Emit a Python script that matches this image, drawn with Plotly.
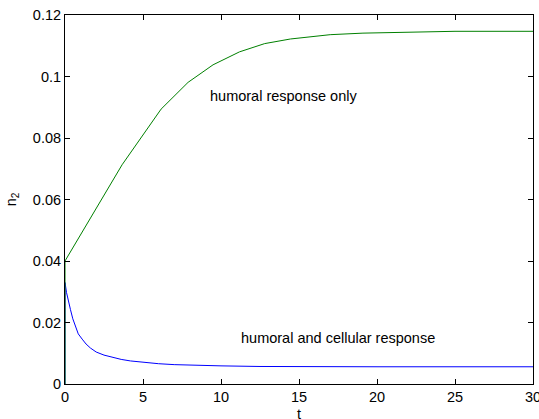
import plotly.graph_objects as go

# Humoral response only (green)
t_humoral = [0, 0, 3.66, 6.16, 7.89, 9.49, 11.18, 12.8, 14.45, 17.0, 19.1, 22.3, 25.0, 30.0]
n2_humoral = [0, 0.040, 0.0713, 0.0894, 0.0981, 0.1038, 0.1080, 0.1107, 0.1122, 0.1136, 0.1141, 0.1145, 0.1147, 0.1147]

# Humoral and cellular response (blue)
t_both = [0, 0, 0.1, 0.2, 0.35, 0.5, 0.67, 0.85, 1.1, 1.35, 1.63, 2.0, 2.5, 3.0, 3.6, 4.2,
          5.0, 6.0, 7.0, 8.5, 10.0, 12.5, 15.0, 20.0, 30.0]
n2_both = [0, 0.033, 0.0297, 0.0272, 0.0242, 0.0212, 0.0185, 0.0163, 0.0146, 0.0130, 0.0117,
           0.0104, 0.0094, 0.0087, 0.0080, 0.0075, 0.0070, 0.0066, 0.0063, 0.0060, 0.0059,
           0.0057, 0.0056, 0.0056, 0.0056]

x_ticks = [0, 5, 10, 15, 20, 25, 30]
y_ticks = [0, 0.02, 0.04, 0.06, 0.08, 0.1, 0.12]
y_tick_labels = ["0", "0.02", "0.04", "0.06", "0.08", "0.1", "0.12"]

FONT = "Liberation Sans, Arial, Helvetica, sans-serif"
FS = 14.5

fig = go.Figure()
fig.add_trace(go.Scatter(x=t_both, y=n2_both, mode="lines",
                         line=dict(color="#0000ff", width=1), showlegend=False))
fig.add_trace(go.Scatter(x=t_humoral, y=n2_humoral, mode="lines",
                         line=dict(color="#008000", width=1), showlegend=False))

fig.add_annotation(x=9.19, y=0.0938, text="humoral response only", showarrow=False,
                   xanchor="left", yanchor="middle", font=dict(size=FS, color="black", family=FONT))
fig.add_annotation(x=11.18, y=0.0151, text="humoral and cellular response", showarrow=False,
                   xanchor="left", yanchor="middle", font=dict(size=FS, color="black", family=FONT))
# x-axis title "t"
fig.add_annotation(x=0.5, y=-0.082, xref="paper", yref="paper", text="t", showarrow=False,
                   xanchor="center", yanchor="middle", font=dict(size=FS, color="black", family=FONT))

axis_common = dict(showgrid=False, zeroline=False, showline=True, linecolor="black", linewidth=1,
                   mirror="ticks", ticks="inside", ticklen=5, tickcolor="black", tickwidth=1,
                   tickfont=dict(size=FS, color="black", family=FONT), ticklabeloverflow="allow")

fig.update_xaxes(range=[0, 30], tickvals=x_ticks, **axis_common)
fig.update_yaxes(range=[0, 0.12], tickvals=y_ticks, ticktext=y_tick_labels,
                 title=dict(text="n<sub>2</sub>", font=dict(size=FS, color="black", family=FONT), standoff=12),
                 **axis_common)

fig.update_layout(width=539, height=419, margin=dict(l=65, r=6, t=15, b=35, autoexpand=False),
                  plot_bgcolor="white", paper_bgcolor="white", font=dict(family=FONT))

fig.write_html("out.html")
